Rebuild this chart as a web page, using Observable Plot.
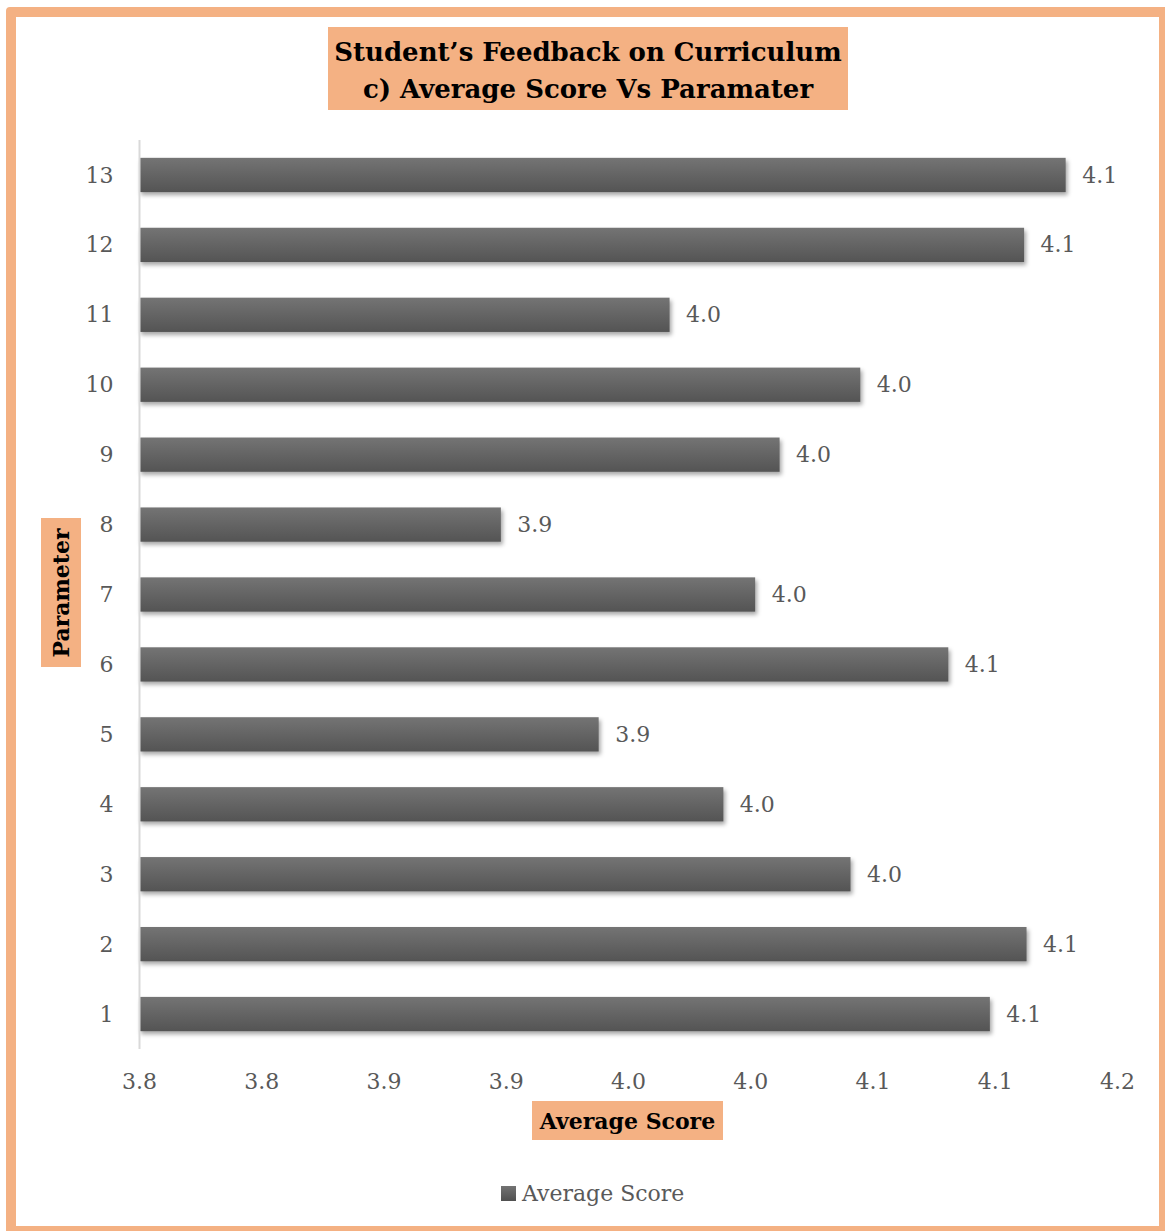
<!DOCTYPE html>
<html>
<head>
<meta charset="utf-8">
<script src="https://cdn.jsdelivr.net/npm/d3@7"></script>
<script src="https://cdn.jsdelivr.net/npm/@observablehq/plot@0.6"></script>
<style>
  html, body { margin: 0; padding: 0; background: #fff; overflow: hidden; }
  #page { position: relative; width: 1165px; height: 1231px; overflow: hidden; background: #fff; font-family: "DejaVu Serif", serif; }
  #frame { position: absolute; left: 6px; top: 7px; width: 1163px; height: 1229px; border: 10px solid #F4B183; box-sizing: border-box; border-radius: 4px; pointer-events: none; z-index: 5; }
  #chart { position: absolute; left: 0; top: 0; }
  .box { position: absolute; background: #F4B183; color: #000; font-weight: bold; text-align: center; z-index: 3; }
  #title { left: 328px; top: 27px; width: 520px; height: 83px; font-size: 26px; line-height: 37px; padding-top: 7px; box-sizing: border-box; }
  #ytitle { left: 41px; top: 518px; width: 40px; height: 149px; }
  #ytitle span { position: absolute; left: 50%; top: 50%; transform: translate(-50%, -50%) rotate(-90deg); font-size: 22px; white-space: nowrap; }
  #xtitle { left: 532px; top: 1101px; width: 191px; height: 39px; font-size: 22px; line-height: 40px; }
  #legend { position: absolute; left: 501px; top: 1178px; height: 30px; display: flex; align-items: center; color: #595959; font-size: 22px; z-index: 3; }
  #legend i { display: inline-block; width: 15px; height: 15px; background: linear-gradient(#737373, #505050); margin-right: 6px; }
  #chart g[aria-label="bar"] rect { filter: drop-shadow(2px 3px 2px rgba(0,0,0,0.35)); }
</style>
</head>
<body>
<div id="page">
  <div id="chart"></div>
  <div id="title" class="box">Student’s Feedback on Curriculum<br>c) Average Score Vs Paramater</div>
  <div id="ytitle" class="box"><span>Parameter</span></div>
  <div id="xtitle" class="box">Average Score</div>
  <div id="legend"><i></i>Average Score</div>
  <div id="frame"></div>
</div>
<script>
const parameters = [1, 2, 3, 4, 5, 6, 7, 8, 9, 10, 11, 12, 13];
const averageScores = [4.148, 4.163, 4.091, 4.039, 3.988, 4.131, 4.052, 3.948, 4.062, 4.095, 4.017, 4.162, 4.179];
const xTicks = [3.8, 3.85, 3.9, 3.95, 4.0, 4.05, 4.1, 4.15, 4.2];
const xDomain = [3.8, 4.2];

const rows = parameters.map((p, i) => ({parameter: String(p), score: averageScores[i]}));
const fmt = v => (Math.floor(v * 10 + 1e-9) / 10).toFixed(1);

const chart = Plot.plot({
  width: 1165,
  height: 1231,
  marginLeft: 139,
  marginRight: 48,
  marginTop: 140,
  marginBottom: 182,
  style: {fontFamily: "'DejaVu Serif', serif", fontSize: "22px", color: "#595959", background: "transparent"},
  x: {domain: xDomain, ticks: xTicks, tickFormat: fmt},
  y: {domain: parameters.slice().reverse().map(String), paddingInner: 0.51, paddingOuter: 0.255, round: false},
  marks: [
    Plot.barX(rows, {x1: xDomain[0], x2: "score", y: "parameter", fill: "url(#barGrad)"}),
    Plot.text(rows, {x: "score", y: "parameter", text: d => fmt(d.score), dx: 16, textAnchor: "start", fill: "#595959", fontSize: 22}),
    Plot.ruleX([xDomain[0]], {stroke: "#D9D9D9", strokeWidth: 2}),
    Plot.axisY({tickSize: 0, tickPadding: 26, fontSize: 22, label: null}),
    Plot.axisX({ticks: xTicks, tickFormat: fmt, tickSize: 0, tickPadding: 24, fontSize: 22, label: null})
  ]
});
chart.insertAdjacentHTML("afterbegin",
  '<defs><linearGradient id="barGrad" x1="0" y1="0" x2="0" y2="1">' +
  '<stop offset="0" stop-color="#747474"/><stop offset="1" stop-color="#545454"/>' +
  '</linearGradient></defs>');
document.getElementById("chart").appendChild(chart);
</script>
</body>
</html>
